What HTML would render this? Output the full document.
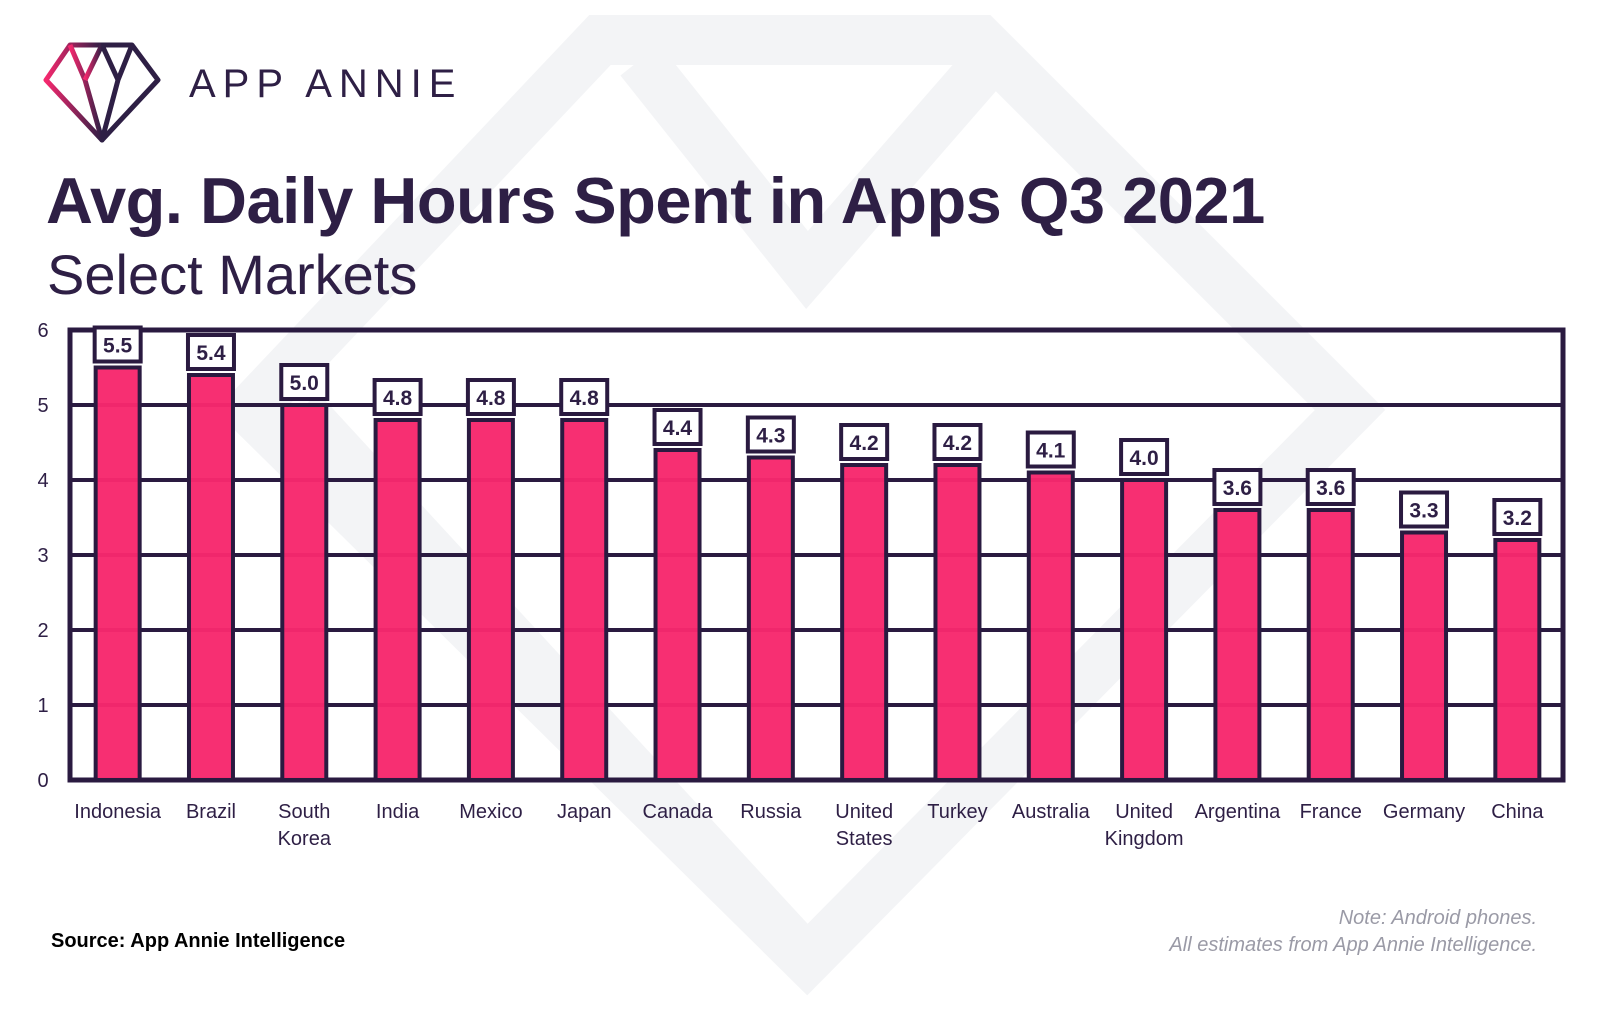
<!DOCTYPE html>
<html><head><meta charset="utf-8"><style>
body{margin:0;width:1600px;height:1014px;background:#fff;overflow:hidden;font-family:"Liberation Sans",sans-serif;position:relative}
.t{position:absolute;white-space:nowrap;color:#2e1f45}
</style></head><body>
<svg width="1600" height="1014" style="position:absolute;left:0;top:0">
<g fill="none" stroke="#f3f4f6" stroke-width="50" stroke-linejoin="miter">
<polygon points="600,40 980,40 1350,410 807,960 250,410"/>
<polyline points="300,410 807,960"/>
<polyline points="640,60 807,270 990,60"/>
</g>
</svg>
<svg width="130" height="110" style="position:absolute;left:40px;top:38px">
<defs><linearGradient id="lg" x1="0" x2="1"><stop offset="0" stop-color="#f5286e"/><stop offset="0.5" stop-color="#2e1f45"/></linearGradient></defs>
<g fill="none" stroke="url(#lg)" stroke-width="5" stroke-linejoin="round">
<polygon points="30,7 92,7 118,42 62,102 6,42"/>
<polyline points="6,42 118,42"/><polyline points="30,7 45,42 62,102 78,42 92,7"/><polyline points="45,42 62,7 78,42"/>
</g></svg>
<div class="t" style="left:189px;top:62px;font-size:40px;letter-spacing:7px">APP ANNIE</div>
<div class="t" style="left:46px;top:163px;font-size:65px;font-weight:bold;letter-spacing:-0.5px">Avg. Daily Hours Spent in Apps Q3 2021</div>
<div class="t" style="left:47px;top:242px;font-size:56px;font-weight:300">Select Markets</div>
<svg id="ch" width="1600" height="1014" style="position:absolute;left:0;top:0"></svg>
<div class="t" style="left:51px;top:930px;font-size:20px;font-weight:bold;color:#000">Source: App Annie Intelligence</div>
<div class="t" style="right:63px;top:905px;font-size:20px;font-style:italic;color:#9a9aa6;text-align:right;line-height:27px">Note: Android phones.<br>All estimates from App Annie Intelligence.</div>
<script>
const categories=[["Indonesia"],["Brazil"],["South","Korea"],["India"],["Mexico"],["Japan"],["Canada"],["Russia"],["United","States"],["Turkey"],["Australia"],["United","Kingdom"],["Argentina"],["France"],["Germany"],["China"]];
const values=[5.5,5.4,5.0,4.8,4.8,4.8,4.4,4.3,4.2,4.2,4.1,4.0,3.6,3.6,3.3,3.2];
const labels=["5.5","5.4","5.0","4.8","4.8","4.8","4.4","4.3","4.2","4.2","4.1","4.0","3.6","3.6","3.3","3.2"];
const yTicks=[0,1,2,3,4,5,6];
const svg=document.getElementById('ch');const NS='http://www.w3.org/2000/svg';
const X0=70,X1=1563,Y0=780,Y1=330;
const y=v=>Y0-(v/6)*(Y0-Y1);const bw=(X1-X0)/categories.length;const xc=i=>X0+bw*(i+0.5)+1;
function mk(t,a,p){const e=document.createElementNS(NS,t);for(const k in a)e.setAttribute(k,a[k]);(p||svg).appendChild(e);return e;}
yTicks.forEach(v=>{
const l=mk('line',{x1:X0,x2:X1,y1:y(v),y2:y(v),stroke:'#2a1a40','stroke-width':4});


const t=mk('text',{x:43,y:y(v)+7,'font-size':20,fill:'#2e1f45','text-anchor':'middle','font-family':'Liberation Sans, sans-serif'});t.textContent=v;


});
const fr=mk('rect',{x:X0,y:Y1,width:X1-X0,height:Y0-Y1,fill:'none',stroke:'#2a1a40','stroke-width':5});


values.forEach((v,i)=>{
const b=mk('rect',{x:xc(i)-22,y:y(v),width:44,height:Y0-y(v),fill:'#f7286d','fill-opacity':0.97,stroke:'#2a1a40','stroke-width':4});


const bx=mk('rect',{x:xc(i)-23,y:y(v)-40,width:46,height:34,fill:'#fff',stroke:'#2a1a40','stroke-width':4});


const t=mk('text',{x:xc(i),y:y(v)-15,'font-size':21,'font-weight':'bold',fill:'#2e1f45','text-anchor':'middle','font-family':'Liberation Sans, sans-serif'});t.textContent=labels[i];


categories[i].forEach((s,j)=>{
const c=mk('text',{x:xc(i),y:818+j*27,'font-size':20,fill:'#2e1f45','text-anchor':'middle','font-family':'Liberation Sans, sans-serif'});c.textContent=s;


});
});
</script>
</body></html>
